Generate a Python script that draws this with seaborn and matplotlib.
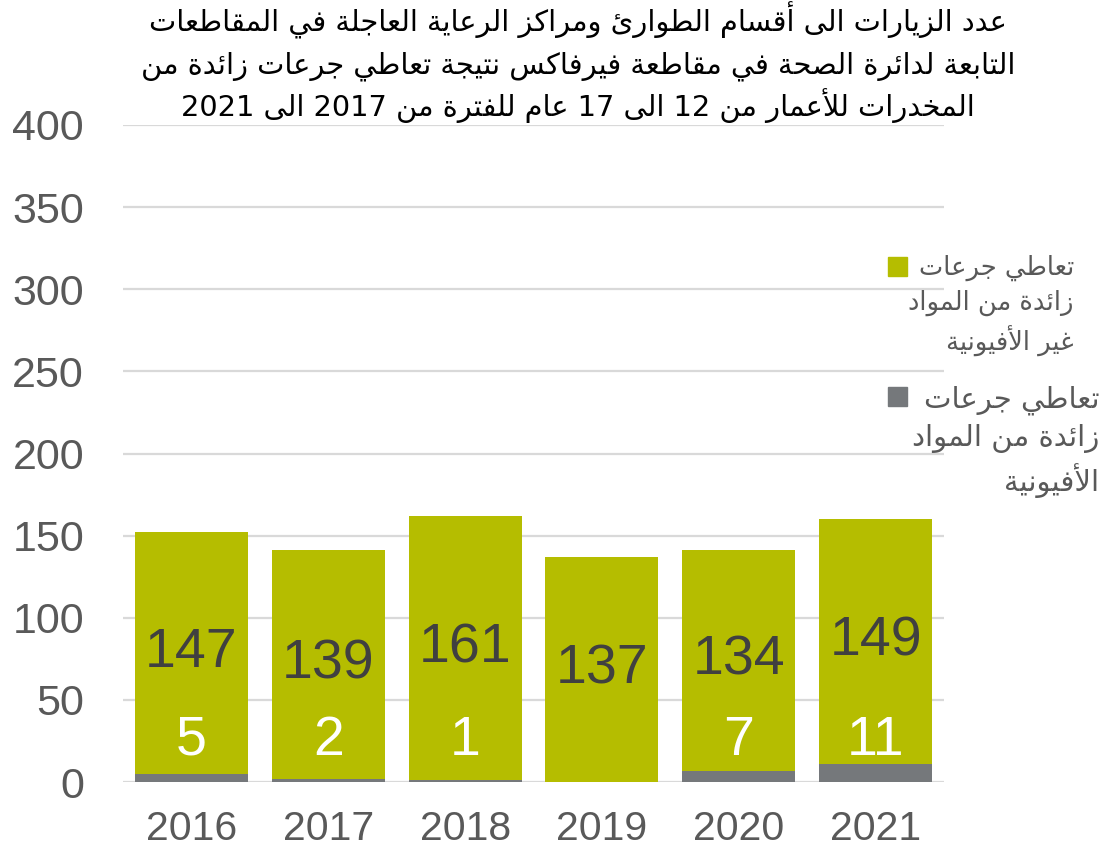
import matplotlib
matplotlib.use("Agg")
import matplotlib.pyplot as plt
from matplotlib.patches import Rectangle
import numpy as np
import pandas as pd
import seaborn as sns

# ---------------- data ----------------
years = ["2016", "2017", "2018", "2019", "2020", "2021"]
opioid = [5, 2, 1, 0, 7, 11]
non_opioid = [147, 139, 161, 137, 134, 149]
y_ticks = [0, 50, 100, 150, 200, 250, 300, 350, 400]

title_lines = [
    "عدد الزيارات الى أقسام الطوارئ ومراكز الرعاية العاجلة في المقاطعات",
    "التابعة لدائرة الصحة في مقاطعة فيرفاكس نتيجة تعاطي جرعات زائدة من",
    "المخدرات للأعمار من 12 الى 17 عام للفترة من 2017 الى 2021",
]
legend_non_opioid = ["تعاطي جرعات", "زائدة من المواد", "غير الأفيونية"]
legend_opioid = ["تعاطي جرعات", "زائدة من المواد", "الأفيونية"]

# ---------------- colours ----------------
GREEN = "#B5BD00"
GREY = "#75787B"
TICK = "#595959"
LABEL_DARK = "#404040"
GRID = "#D9D9D9"

# ---------------- minimal Arabic shaping + visual (RTL) ordering ----------------
DUAL = {"ئ": 0xFE89, "ب": 0xFE8F, "ت": 0xFE95, "ث": 0xFE99, "ج": 0xFE9D, "ح": 0xFEA1,
        "خ": 0xFEA5, "س": 0xFEB1, "ش": 0xFEB5, "ص": 0xFEB9, "ض": 0xFEBD, "ط": 0xFEC1,
        "ظ": 0xFEC5, "ع": 0xFEC9, "غ": 0xFECD, "ف": 0xFED1, "ق": 0xFED5, "ك": 0xFED9,
        "ل": 0xFEDD, "م": 0xFEE1, "ن": 0xFEE5, "ه": 0xFEE9, "ي": 0xFEF1}
RIGHT = {"آ": 0xFE81, "أ": 0xFE83, "ؤ": 0xFE85, "إ": 0xFE87, "ا": 0xFE8D, "ة": 0xFE93,
         "د": 0xFEA9, "ذ": 0xFEAB, "ر": 0xFEAD, "ز": 0xFEAF, "و": 0xFEED, "ى": 0xFEEF}
NONJ = {"ء": 0xFE80}
LAMALEF = {"ا": 0xFEFB, "أ": 0xFEF7, "إ": 0xFEF9, "آ": 0xFEF5}


def shape_word(w):
    if not any(c in DUAL or c in RIGHT or c in NONJ for c in w):
        return w
    units = []
    i = 0
    while i < len(w):
        c = w[i]
        if c == "ل" and i + 1 < len(w) and w[i + 1] in LAMALEF:
            units.append(("R", LAMALEF[w[i + 1]]))
            i += 2
            continue
        if c in DUAL:
            units.append(("D", DUAL[c]))
        elif c in RIGHT:
            units.append(("R", RIGHT[c]))
        elif c in NONJ:
            units.append(("N", NONJ[c]))
        else:
            units.append(("X", c))
        i += 1
    out = []
    for k, (kind, base) in enumerate(units):
        if kind == "X":
            out.append(base)
            continue
        if kind == "N":
            out.append(chr(base))
            continue
        prev_j = k > 0 and units[k - 1][0] == "D"
        next_j = kind == "D" and k + 1 < len(units) and units[k + 1][0] in "DR"
        if kind == "R":
            off = 1 if prev_j else 0
        else:
            off = 3 if (prev_j and next_j) else 1 if prev_j else 2 if next_j else 0
        out.append(chr(base + off))
    return "".join(reversed(out))


def shape_line(s):
    # right-to-left line: words laid out from right to left
    return " ".join(shape_word(w) for w in reversed(s.split(" ")))


# ---------------- figure ----------------
sns.set_theme(style="white")
plt.rcParams["font.family"] = ["Liberation Sans", "DejaVu Sans"]

W, H = 1101, 850
fig = plt.figure(figsize=(W / 100, H / 100), dpi=100)
ax = fig.add_axes([123 / W, (H - 782) / H, (944 - 123) / W, (782 - 125) / H])

df = pd.DataFrame({"year": years, "opioid": opioid, "non_opioid": non_opioid})
df["total"] = df["opioid"] + df["non_opioid"]

sns.barplot(data=df, x="year", y="total", color=GREEN, saturation=1, width=0.825,
            linewidth=0, ax=ax, zorder=3)
sns.barplot(data=df, x="year", y="opioid", color=GREY, saturation=1, width=0.825,
            linewidth=0, ax=ax, zorder=4)

ax.set_ylim(0, 400)
ax.set_xlim(-0.5, len(years) - 0.5)
ax.set_yticks(y_ticks)
ax.set_yticklabels([str(t) for t in y_ticks])
ax.set_xlabel("")
ax.set_ylabel("")
for sp in ax.spines.values():
    sp.set_visible(False)
ax.yaxis.grid(True, color=GRID, linewidth=1.6, zorder=0)
ax.set_axisbelow(True)
ax.tick_params(axis="y", length=0, pad=28, labelsize=31, labelcolor=TICK)
ax.tick_params(axis="x", length=0, pad=20, labelsize=29.5, labelcolor=TICK)

# bar value labels
for i, (o, n) in enumerate(zip(opioid, non_opioid)):
    ax.text(i, o + n / 2, str(n), ha="center", va="center", fontsize=40,
            color=LABEL_DARK, zorder=6)
    if o > 0:
        ax.text(i, 25, str(o), ha="center", va="center", fontsize=40,
                color="white", zorder=6)

# title
ar_font = ["DejaVu Sans"]
title_baselines = [31, 73, 116]
for line, yb in zip(title_lines, title_baselines):
    fig.text(578 / W, 1 - yb / H, shape_line(line), ha="center", va="baseline",
             fontsize=20.8, color="black", family=ar_font)

# legend (manual, matching reference layout)
fig.patches.append(Rectangle((888 / W, 1 - 276 / H), 19 / W, 19 / H,
                             transform=fig.transFigure, color=GREEN))
fig.patches.append(Rectangle((888 / W, 1 - 406 / H), 19 / W, 19 / H,
                             transform=fig.transFigure, color=GREY))
fig.text(1074 / W, 1 - 306 / H, "\n".join(shape_line(s) for s in legend_non_opioid),
         ha="right", va="center", multialignment="right", fontsize=18.5,
         color=TICK, family=ar_font, linespacing=1.4)
fig.text(1099 / W, 1 - 442 / H, "\n".join(shape_line(s) for s in legend_opioid),
         ha="right", va="center", multialignment="right", fontsize=21,
         color=TICK, family=ar_font, linespacing=1.38)

fig.savefig("out.png", dpi=100)
